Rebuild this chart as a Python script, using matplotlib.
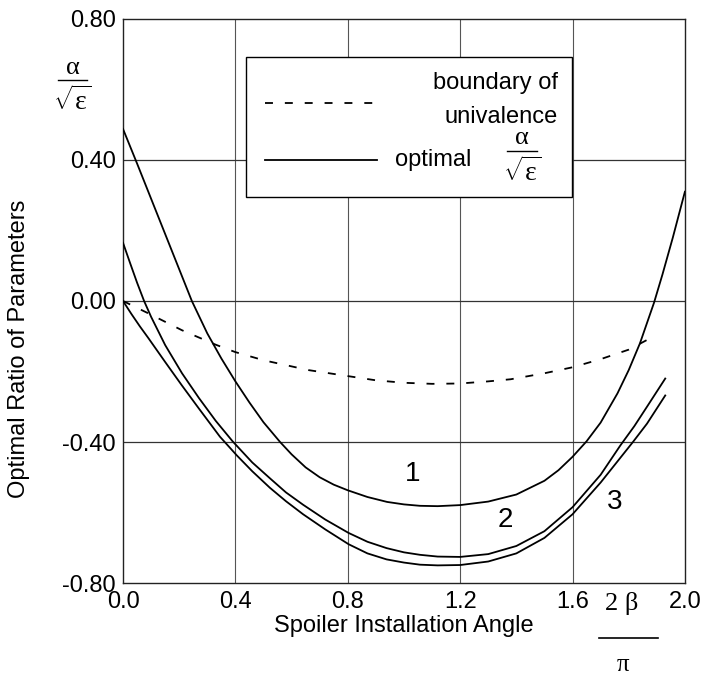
import matplotlib
matplotlib.use("Agg")
import matplotlib.pyplot as plt
from matplotlib.patches import Rectangle
from matplotlib.lines import Line2D

plt.rcParams['font.family'] = ['Liberation Sans', 'DejaVu Sans']
plt.rcParams['mathtext.fontset'] = 'custom'
plt.rcParams['mathtext.rm'] = 'Liberation Serif'
plt.rcParams['mathtext.it'] = 'Liberation Serif'
plt.rcParams['mathtext.default'] = 'rm'

# ---- data ----
x1 = [0.00, 0.05, 0.10, 0.15, 0.20, 0.245, 0.30, 0.35, 0.40, 0.45, 0.50, 0.559, 0.60, 0.65, 0.70, 0.75,
      0.80, 0.87, 0.94, 1.00, 1.057, 1.12, 1.20, 1.30, 1.40, 1.50, 1.55, 1.60, 1.65, 1.70, 1.76, 1.80,
      1.84, 1.89, 1.92, 1.957, 2.00]
y1 = [0.488, 0.390, 0.290, 0.190, 0.090, 0.000, -0.092, -0.163, -0.228, -0.288, -0.344, -0.400, -0.435, -0.472,
      -0.500, -0.521, -0.537, -0.556, -0.570, -0.577, -0.581, -0.582, -0.579, -0.569, -0.549, -0.510, -0.480,
      -0.442, -0.398, -0.345, -0.262, -0.196, -0.120, -0.005, 0.075, 0.180, 0.310]

x2 = [0.00, 0.025, 0.05, 0.075, 0.10, 0.15, 0.21, 0.27, 0.33, 0.39, 0.46, 0.523, 0.58, 0.641, 0.72, 0.803,
      0.87, 0.938, 1.00, 1.057, 1.12, 1.20, 1.30, 1.40, 1.50, 1.60, 1.70, 1.77, 1.82, 1.865, 1.93]
y2 = [0.165, 0.108, 0.052, 0.000, -0.045, -0.125, -0.205, -0.275, -0.340, -0.398, -0.458, -0.503, -0.543,
      -0.578, -0.620, -0.658, -0.683, -0.701, -0.713, -0.720, -0.725, -0.726, -0.718, -0.695, -0.653, -0.585,
      -0.493, -0.410, -0.355, -0.300, -0.220]

x3 = [0.00, 0.03, 0.06, 0.09, 0.15, 0.21, 0.27, 0.345, 0.405, 0.46, 0.523, 0.58, 0.641, 0.72, 0.803, 0.87,
      0.938, 1.00, 1.057, 1.12, 1.20, 1.30, 1.40, 1.50, 1.60, 1.70, 1.76, 1.815, 1.865, 1.93]
y3 = [0.000, -0.037, -0.072, -0.105, -0.173, -0.240, -0.305, -0.385, -0.438, -0.483, -0.530, -0.568, -0.605,
      -0.648, -0.690, -0.716, -0.733, -0.742, -0.748, -0.750, -0.749, -0.739, -0.716, -0.672, -0.605, -0.515,
      -0.455, -0.400, -0.348, -0.268]

xb = [0.00, 0.09, 0.21, 0.33, 0.40, 0.50, 0.66, 0.80, 0.90, 1.00, 1.10, 1.20, 1.30, 1.38,
      1.50, 1.60, 1.70, 1.80, 1.89]
yb = [0.000, -0.035, -0.083, -0.124, -0.145, -0.168, -0.196, -0.213, -0.225, -0.232, -0.235, -0.234, -0.228,
      -0.222, -0.205, -0.188, -0.165, -0.138, -0.100]

curve_labels = ['1', '2', '3']
label_x = [1.03, 1.36, 1.75]
label_y = [-0.49, -0.62, -0.57]

xticks = [0.0, 0.4, 0.8, 1.2, 1.6, 2.0]
xtick_labels = ['0.0', '0.4', '0.8', '1.2', '1.6', '2.0']
yticks = [0.8, 0.4, 0.0, -0.4, -0.8]
ytick_labels = ['0.80', '0.40', '0.00', '-0.40', '-0.80']

# ---- figure ----
fig = plt.figure(figsize=(7.05, 6.83), dpi=100)
ax = fig.add_axes([0.1745, 0.1464, 0.797, 0.8258])
ax.set_xlim(0, 2.0)
ax.set_ylim(-0.8, 0.8)

for v in xticks[1:-1]:
    ax.axvline(v, color='#555555', lw=0.8, zorder=1)
for v in yticks[1:-1]:
    ax.axhline(v, color='#333333', lw=0.9, zorder=1)

lw = 1.3
ax.plot(x1, y1, color='black', lw=lw, zorder=3)
ax.plot(x2, y2, color='black', lw=lw, zorder=3)
ax.plot(x3, y3, color='black', lw=lw, zorder=3)
ax.plot(xb, yb, color='black', lw=lw, dashes=(4.4, 6.6), zorder=3)

for t, lx, ly in zip(curve_labels, label_x, label_y):
    ax.text(lx, ly, t, fontsize=20, ha='center', va='center')

ax.set_xticks(xticks)
ax.set_xticklabels(xtick_labels)
ax.set_yticks(yticks)
ax.set_yticklabels(ytick_labels)
ax.tick_params(length=0, labelsize=17)
ax.tick_params(axis='y', pad=5)
ax.tick_params(axis='x', pad=6)
for s in ax.spines.values():
    s.set_linewidth(1.0)
    s.set_color('#222222')

# axis labels
ax.text(0.5, -0.077, 'Spoiler Installation Angle', transform=ax.transAxes,
        ha='center', va='center', fontsize=17)
ax.text(-0.185, 0.415, 'Optimal Ratio of Parameters', transform=ax.transAxes,
        ha='center', va='center', rotation=90, fontsize=17)

# 2beta/pi fraction near x axis
ax.text(0.888, -0.036, '2 β', transform=ax.transAxes, ha='center', va='center', fontsize=19,
        family='Liberation Serif')
ax.add_line(Line2D([0.847, 0.952], [-0.0975, -0.0975], transform=ax.transAxes, color='black',
                   lw=1.2, clip_on=False))
ax.text(0.890, -0.146, 'π', transform=ax.transAxes, ha='center', va='center', fontsize=18,
        family='Liberation Serif')

# alpha/sqrt(eps) near y axis top
ax.text(-0.090, 0.913, 'α', transform=ax.transAxes, ha='center', va='center', fontsize=19,
        family='Liberation Serif')
ax.add_line(Line2D([-0.116, -0.064], [0.891, 0.891], transform=ax.transAxes, color='black',
                   lw=1.0, clip_on=False))
ax.text(-0.090, 0.855, r'$\sqrt{\varepsilon}$', transform=ax.transAxes, ha='center', va='center', fontsize=20)

# legend box (manual)
ax.add_patch(Rectangle((0.219, 0.684), 0.580, 0.249, transform=ax.transAxes,
                       facecolor='white', edgecolor='black', lw=1.0, zorder=5))
ax.add_line(Line2D([0.253, 0.452], [0.851, 0.851], transform=ax.transAxes, color='black',
                   lw=lw, dashes=(4.4, 6.6), zorder=6))
ax.text(0.774, 0.887, 'boundary of', transform=ax.transAxes, ha='right', va='center', fontsize=17, zorder=6)
ax.text(0.774, 0.826, 'univalence', transform=ax.transAxes, ha='right', va='center', fontsize=17, zorder=6)
ax.add_line(Line2D([0.253, 0.452], [0.750, 0.750], transform=ax.transAxes, color='black',
                   lw=lw, zorder=6))
ax.text(0.484, 0.750, 'optimal', transform=ax.transAxes, ha='left', va='center', fontsize=17, zorder=6)
ax.text(0.710, 0.789, 'α', transform=ax.transAxes, ha='center', va='center', fontsize=19, zorder=6,
        family='Liberation Serif')
ax.add_line(Line2D([0.683, 0.737], [0.766, 0.766], transform=ax.transAxes, color='black',
                   lw=1.0, zorder=6))
ax.text(0.710, 0.729, r'$\sqrt{\varepsilon}$', transform=ax.transAxes, ha='center', va='center',
        fontsize=20, zorder=6)

fig.savefig('out.png', dpi=100)
